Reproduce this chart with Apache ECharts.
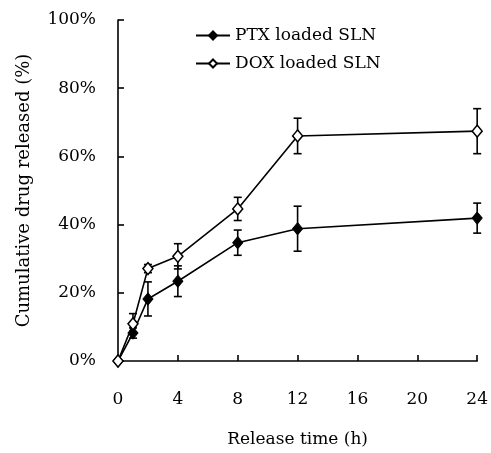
<!DOCTYPE html>
<html>
<head>
<meta charset="utf-8">
<script src="https://cdn.jsdelivr.net/npm/echarts@6/dist/echarts.min.js"></script>
<style>
  html, body { margin: 0; padding: 0; background: #fff; }
  #chart { width: 491px; height: 453px; }
</style>
</head>
<body>
<div id="chart"></div>
<script>
// release time (h)
var times = [0, 1, 2, 4, 8, 12, 24]
var ptx = [0, 8.2, 18.2, 23.4, 34.7, 38.8, 41.9]
var ptxErr = [0, 1.5, 5, 4.5, 3.7, 6.6, 4.4]
var dox = [0, 10.9, 27.1, 30.7, 44.6, 66, 67.4]
var doxErr = [0, 3, 1.2, 3.7, 3.4, 5.2, 6.6]
var yTicks = [0, 20, 40, 60, 80, 100]

var font = 'DejaVu Serif'

function pairs(vals) {
  return times.map(function (t, i) { return [t, vals[i]] })
}
function errData(vals, errs) {
  return times.map(function (t, i) { return [t, vals[i] - errs[i], vals[i] + errs[i]] })
}

// vertical error bar with caps
function renderErr(params, api) {
  var x = api.value(0)
  var lo = api.coord([x, api.value(1)])
  var hi = api.coord([x, api.value(2)])
  var cap = 4
  var style = { stroke: '#000', lineWidth: 1.6 }
  return {
    type: 'group',
    children: [
      { type: 'line', shape: { x1: lo[0], y1: lo[1], x2: hi[0], y2: hi[1] }, style: style },
      { type: 'line', shape: { x1: lo[0] - cap, y1: lo[1], x2: lo[0] + cap, y2: lo[1] }, style: style },
      { type: 'line', shape: { x1: hi[0] - cap, y1: hi[1], x2: hi[0] + cap, y2: hi[1] }, style: style }
    ]
  }
}

var chart = echarts.init(document.getElementById('chart'))
chart.setOption({
  animation: false,
  textStyle: { fontFamily: font, color: '#000' },
  grid: { left: 118, right: 12, top: 20, bottom: 90 },
  legend: {
    orient: 'vertical',
    left: 190,
    top: 22,
    itemGap: 11,
    itemWidth: 34,
    itemHeight: 10,
    textStyle: { fontFamily: font, fontSize: 17, color: '#000' },
    data: ['PTX loaded SLN', 'DOX loaded SLN']
  },
  xAxis: {
    type: 'value',
    min: 0,
    max: 24,
    interval: 4,
    name: 'Release time (h)',
    nameLocation: 'middle',
    nameGap: 70,
    nameTextStyle: { fontFamily: font, fontSize: 17, color: '#000' },
    axisLine: { lineStyle: { color: '#000', width: 1.6 } },
    axisTick: { inside: true, length: 6, lineStyle: { color: '#000', width: 1.6 } },
    axisLabel: { fontFamily: font, fontSize: 17, color: '#000', margin: 30 },
    splitLine: { show: false }
  },
  yAxis: {
    type: 'value',
    min: yTicks[0],
    max: yTicks[yTicks.length - 1],
    interval: 20,
    name: 'Cumulative drug released (%)',
    nameLocation: 'middle',
    nameGap: 85,
    nameTextStyle: { fontFamily: font, fontSize: 18, color: '#000' },
    axisLine: { show: true, lineStyle: { color: '#000', width: 1.6 } },
    axisTick: { show: true, inside: true, length: 6, lineStyle: { color: '#000', width: 1.6 } },
    axisLabel: { fontFamily: font, fontSize: 17, color: '#000', margin: 22, formatter: '{value}%' },
    splitLine: { show: false }
  },
  series: [
    {
      name: 'PTX loaded SLN',
      type: 'line',
      data: pairs(ptx),
      symbol: 'diamond',
      symbolSize: [10, 12],
      showAllSymbol: true,
      lineStyle: { color: '#000', width: 1.6 },
      itemStyle: { color: '#000', borderColor: '#000', borderWidth: 1 },
      z: 3
    },
    {
      name: 'DOX loaded SLN',
      type: 'line',
      data: pairs(dox),
      symbol: 'diamond',
      symbolSize: [10, 12],
      showAllSymbol: true,
      lineStyle: { color: '#000', width: 1.6 },
      itemStyle: { color: '#fff', borderColor: '#000', borderWidth: 1.5 },
      z: 3
    },
    {
      type: 'custom',
      renderItem: renderErr,
      data: errData(ptx, ptxErr),
      encode: { x: 0, y: [1, 2] },
      z: 2,
      silent: true
    },
    {
      type: 'custom',
      renderItem: renderErr,
      data: errData(dox, doxErr),
      encode: { x: 0, y: [1, 2] },
      z: 2,
      silent: true
    }
  ]
})
</script>
</body>
</html>
